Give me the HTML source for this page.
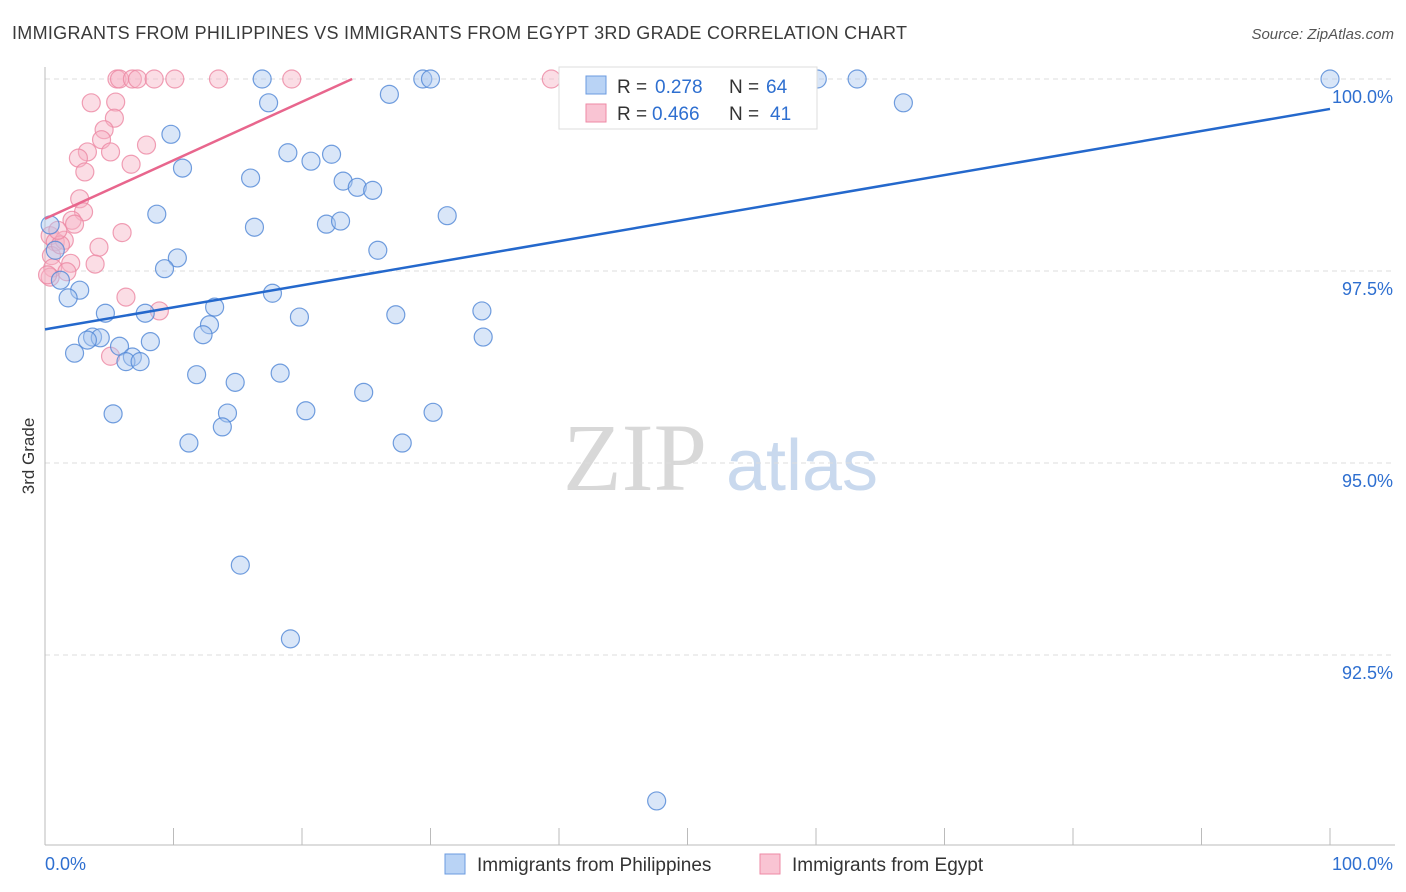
<!DOCTYPE html>
<html><head><meta charset="utf-8"><style>
body{margin:0;background:#fff;font-family:"Liberation Sans",sans-serif;}
svg{display:block}
</style></head><body>
<svg id="chart" width="1406" height="892">
<text x="12" y="39" font-size="18" fill="#3a3a3a" textLength="895">IMMIGRANTS FROM PHILIPPINES VS IMMIGRANTS FROM EGYPT 3RD GRADE CORRELATION CHART</text>
<text x="1394" y="39" font-size="15" fill="#555" font-style="italic" text-anchor="end">Source: ZipAtlas.com</text>
<text transform="translate(34,456) rotate(-90)" font-size="17" fill="#333" text-anchor="middle">3rd Grade</text>
<g>
<text x="635" y="490" font-size="96" font-family="Liberation Serif,serif" fill="#d8d8d8" text-anchor="middle">ZIP</text>
<text x="802" y="490" font-size="72" fill="#c9d9ee" text-anchor="middle">atlas</text>
</g>
<g id="grid"></g><g id="axes"></g><g id="marks"></g>
<g>
<rect x="559" y="67" width="258" height="62" fill="#fff" stroke="#ddd"/>
<rect x="586" y="76" width="20" height="18" fill="#b9d3f5" stroke="#6b9be0"/>
<rect x="586" y="104" width="20" height="18" fill="#f9c4d3" stroke="#ee8aa6"/>
<text x="617" y="93" font-size="19" fill="#333">R =</text>
<text x="655" y="93" font-size="19" fill="#2e6fd0">0.278</text>
<text x="729" y="93" font-size="19" fill="#333">N =</text>
<text x="766" y="93" font-size="19" fill="#2e6fd0">64</text>
<text x="617" y="120" font-size="19" fill="#333">R =</text>
<text x="652" y="120" font-size="19" fill="#2e6fd0">0.466</text>
<text x="729" y="120" font-size="19" fill="#333">N =</text>
<text x="770" y="120" font-size="19" fill="#2e6fd0">41</text>
</g>
<g>
<rect x="445" y="854" width="20" height="20" fill="#b9d3f5" stroke="#6b9be0"/>
<text x="477" y="871" font-size="19" fill="#333">Immigrants from Philippines</text>
<rect x="760" y="854" width="20" height="20" fill="#f9c4d3" stroke="#ee8aa6"/>
<text x="792" y="871" font-size="19" fill="#333">Immigrants from Egypt</text>
</g>
</svg>
<script>
const blueX=[16.9,29.4,30.0,60.1,63.2,100,26.8,17.4,66.8,9.8,18.9,22.3,20.7,10.7,16.0,23.2,24.3,25.5,8.7,31.3,21.9,23.0,16.3,25.9,10.3,9.3,0.4,0.8,1.2,2.7,1.8,17.7,13.2,4.7,7.8,19.8,27.3,34.0,12.8,12.3,3.7,4.3,3.3,8.2,34.1,5.8,2.3,6.8,6.3,7.4,11.8,18.3,14.8,24.8,5.3,14.2,20.3,30.2,13.8,11.2,27.8,15.2,19.1,47.6];
const blueY=[100,100,100,100,100,100,99.80,99.69,99.69,99.28,99.04,99.02,98.93,98.84,98.71,98.67,98.59,98.55,98.24,98.22,98.11,98.15,98.07,97.77,97.67,97.53,98.10,97.77,97.38,97.25,97.15,97.21,97.03,96.95,96.95,96.90,96.93,96.98,96.80,96.67,96.64,96.63,96.60,96.58,96.64,96.52,96.43,96.38,96.32,96.32,96.15,96.17,96.05,95.92,95.64,95.65,95.68,95.66,95.47,95.26,95.26,93.67,92.71,90.60];
const pinkX=[5.6,5.8,6.8,7.2,8.5,10.1,13.5,19.2,39.4,3.6,5.5,5.4,4.6,4.4,7.9,3.3,5.1,2.6,6.7,3.1,2.7,3.0,2.1,2.3,0.4,6.0,0.8,1.5,4.2,0.5,3.9,2.0,0.6,1.7,0.4,6.3,8.9,5.1,1.2,0.2,1.0];
const pinkY=[100,100,100,100,100,100,100,100,100,99.69,99.70,99.49,99.34,99.21,99.14,99.05,99.05,98.97,98.89,98.79,98.44,98.27,98.16,98.11,97.96,98.0,97.88,97.90,97.81,97.70,97.59,97.60,97.54,97.49,97.42,97.16,96.98,96.39,97.84,97.45,98.03];
const blueTrend=[96.74,99.61];
const pinkTrend=[98.18,100];
const pinkTrendEndX=23.9;
const yTicks=[100,97.5,95,92.5];
const yTickLabels=["100.0%","97.5%","95.0%","92.5%"];
const xEndLabels=["0.0%","100.0%"];
const NS="http://www.w3.org/2000/svg";
const sx=v=>45+v*12.85;
const sy=v=>79+(100-v)*76.8;
function mk(tag,attrs,parent){const e=document.createElementNS(NS,tag);for(const k in attrs)e.setAttribute(k,attrs[k]);parent.appendChild(e);return e;}
const grid=document.getElementById('grid'),axes=document.getElementById('axes'),marks=document.getElementById('marks');
yTicks.forEach((t,i)=>{
 const l=mk('line',{x1:45,x2:1395,y1:sy(t),y2:sy(t),stroke:'#ddd','stroke-dasharray':'5,4'},grid);
 
 
 const tx=mk('text',{x:1393,y:sy(t)+24,'font-size':18,fill:'#2e6fd0','text-anchor':'end'},axes);
 tx.textContent=yTickLabels[i];
 
 
});
const ya=mk('line',{x1:45,x2:45,y1:67,y2:845,stroke:'#bbb'},axes);


const xa=mk('line',{x1:45,x2:1395,y1:845,y2:845,stroke:'#bbb'},axes);


for(let i=0;i<=10;i++){const x=sx(i*10);const t=mk('line',{x1:x,x2:x,y1:828,y2:845,stroke:'#bbb'},axes);
 
 }
[[0,'start',45],[1,'end',1393]].forEach(([i,a,x])=>{const t=mk('text',{x:x,y:870,'font-size':18,fill:'#2e6fd0','text-anchor':a},axes);t.textContent=xEndLabels[i];
 
 });
function dots(X,Y,fill,stroke,name){X.forEach((x,i)=>{const c=mk('circle',{cx:sx(x),cy:sy(Y[i]),r:9,fill:fill,'fill-opacity':0.45,stroke:stroke,'stroke-width':1.2,'stroke-opacity':0.8},marks);
 
 });}
dots(pinkX,pinkY,'#f7b3c6','#ec87a3','point-egypt');
dots(blueX,blueY,'#aac8f0','#4f86d6','point-philippines');
const bl=mk('line',{x1:sx(0),y1:sy(blueTrend[0]),x2:sx(100),y2:sy(blueTrend[1]),stroke:'#2468cc','stroke-width':2.5},marks);


const pl=mk('line',{x1:sx(0),y1:sy(pinkTrend[0]),x2:sx(pinkTrendEndX),y2:sy(pinkTrend[1]),stroke:'#e8668d','stroke-width':2.5},marks);


</script>
</body></html>
